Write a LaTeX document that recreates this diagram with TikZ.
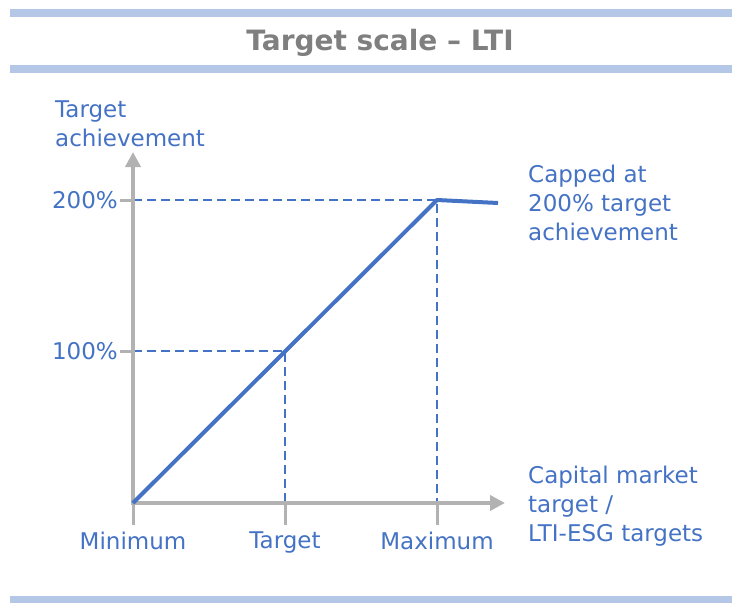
\documentclass[tikz,border=0pt]{standalone}
\usepackage{fontspec}
\setmainfont{DejaVu Sans}
\usetikzlibrary{arrows.meta,positioning}
\definecolor{ltiblue}{HTML}{4472C4}
\definecolor{axisgray}{HTML}{B2B2B2}
\definecolor{barblue}{HTML}{B4C7E7}
\definecolor{titlegray}{HTML}{7F7F7F}

\begin{document}
\begin{tikzpicture}[
    x = 1pt, y = -1pt, % one unit per pixel, y downwards
    > = {Triangle[length=15pt,width=15pt]}, % arrow head style
    axis/.style = {draw=axisgray, line width=4.5pt},
    tick/.style = {draw=axisgray, line width=3pt},
    guide/.style = {draw=ltiblue, line width=2.6pt, dash pattern=on 9pt off 5pt},
    curve/.style = {draw=ltiblue, line width=4pt, line join=round},
    lbl/.style = {text=ltiblue, font=\fontsize{23}{29}\selectfont, inner sep=0pt, align=left},
    node distance = 7pt
    ]

    \useasboundingbox (0,0) rectangle (732,603);

    % bars and title
    \fill[barblue] (10,9) rectangle (732,17);
    \fill[barblue] (10,65) rectangle (732,73);
    \fill[barblue] (10,596) rectangle (732,603);
    \node[text=titlegray, font=\fontsize{28}{32}\selectfont\bfseries] (title) at (380,43) {Target scale -- LTI};

    % key points
    \coordinate (O) at (133,503);
    \coordinate (ytop) at (133,152);
    \coordinate (xend) at (505,503);
    \coordinate (y200) at (133,200);
    \coordinate (y100) at (133,351);
    \coordinate (xtgt) at (285,503);
    \coordinate (xmax) at (437,503);
    \coordinate (p100) at (285,351);
    \coordinate (p200) at (437,200);
    \coordinate (cap) at (498,203);

    % dashed guides
    \draw[guide] (y200) -- (p200) -- (xmax);
    \draw[guide] (y100) -- (p100) -- (xtgt);

    % axes and ticks
    \draw[axis,->] (133,505) -- (ytop);
    \draw[axis,->] (131,503) -- (xend);
    \draw[tick] (y200) -- ++(-13,0) coordinate (t200);
    \draw[tick] (y100) -- ++(-13,0) coordinate (t100);
    \draw[tick] (O) -- ++(0,22) coordinate (tmin);
    \draw[tick] (xtgt) -- ++(0,22) coordinate (ttgt);
    \draw[tick] (xmax) -- ++(0,22) coordinate (tmax);

    % target curve
    \draw[curve] (O) -- (p200) -- (cap);

    % labels
    \node[lbl, left=2pt of t200] (l200) {200\%};
    \node[lbl, left=2pt of t100] (l100) {100\%};
    \node[lbl, below=of tmin] (lmin) {Minimum};
    \node[lbl, below=of ttgt] (ltgt) {Target};
    \node[lbl, below=of tmax] (lmax) {Maximum};
    \node[lbl, anchor=north west] (yname) at (55,101) {Target\\achievement};
    \node[lbl, anchor=north west] (xname) at (528,466) {Capital market\\target /\\LTI-ESG targets};
    \node[lbl, anchor=north west] (capnote) at (528,165) {Capped at\\200\% target\\achievement};

\end{tikzpicture}
\end{document}
